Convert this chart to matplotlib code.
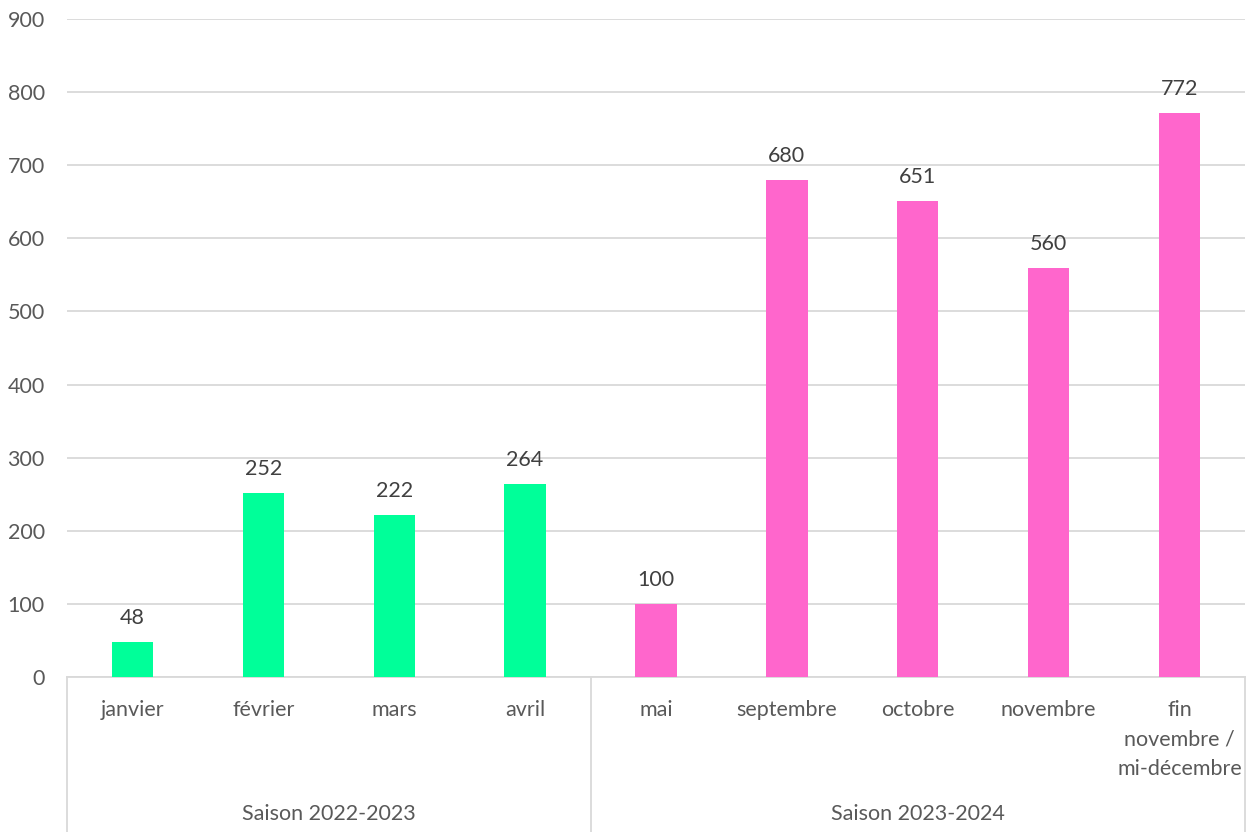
import matplotlib
matplotlib.use("Agg")
import matplotlib.pyplot as plt
from matplotlib.lines import Line2D

categories = ["janvier", "février", "mars", "avril", "mai", "septembre", "octobre",
              "novembre", "fin\nnovembre /\nmi-décembre"]
values = [48, 252, 222, 264, 100, 680, 651, 560, 772]
season_of = [0, 0, 0, 0, 1, 1, 1, 1, 1]
seasons = ["Saison 2022-2023", "Saison 2023-2024"]
season_colors = ["#00FF99", "#FF66CC"]
yticks = [0, 100, 200, 300, 400, 500, 600, 700, 800, 900]

plt.rcParams['font.family'] = ['Lato', 'DejaVu Sans']
txt = "#595959"
grid = "#D9D9D9"
fs = 15.5

fig = plt.figure(figsize=(12.53, 8.32), dpi=100)
W, H = 1253, 832
ax = fig.add_axes([67 / W, (832 - 677) / H, (1245 - 67) / W, (677 - 19) / H])

x = list(range(len(categories)))
colors = [season_colors[s] for s in season_of]
bars = ax.bar(x, values, width=0.315, color=colors, zorder=3)

for xi, v in zip(x, values):
    ax.annotate(str(v), (xi, v), xytext=(0, 10), textcoords="offset points",
                ha="center", va="bottom", fontsize=fs, color="#404040")

ax.set_xlim(-0.5, len(categories) - 0.5)
ax.set_ylim(0, 900)
ax.set_yticks(yticks)
ax.set_yticklabels([str(t) for t in yticks])
ax.tick_params(axis="y", length=0, pad=16, labelsize=fs, labelcolor=txt)
ax.set_xticks([])
ax.yaxis.grid(True, color=grid, linewidth=1.3, zorder=0)
for s in ["top", "right", "left"]:
    ax.spines[s].set_visible(False)
ax.spines["bottom"].set_color(grid)
ax.spines["bottom"].set_linewidth(1.3)

ah = 677 - 19
trans = ax.get_xaxis_transform()
for xi, c in zip(x, categories):
    ax.text(xi, -23 / ah, c, transform=trans, ha="center", va="top",
            fontsize=fs, color=txt, linespacing=1.6)

# group separators
bounds = [-0.5]
for i in range(1, len(season_of)):
    if season_of[i] != season_of[i - 1]:
        bounds.append(i - 0.5)
bounds.append(len(categories) - 0.5)
for b in bounds:
    ax.add_line(Line2D([b, b], [0, -156 / ah], transform=trans, color=grid,
                       linewidth=1.3, clip_on=False))
for gi, name in enumerate(seasons):
    mid = (bounds[gi] + bounds[gi + 1]) / 2
    ax.text(mid, -137 / ah, name, transform=trans, ha="center", va="center",
            fontsize=fs, color=txt)

fig.savefig("out.png", dpi=100)
